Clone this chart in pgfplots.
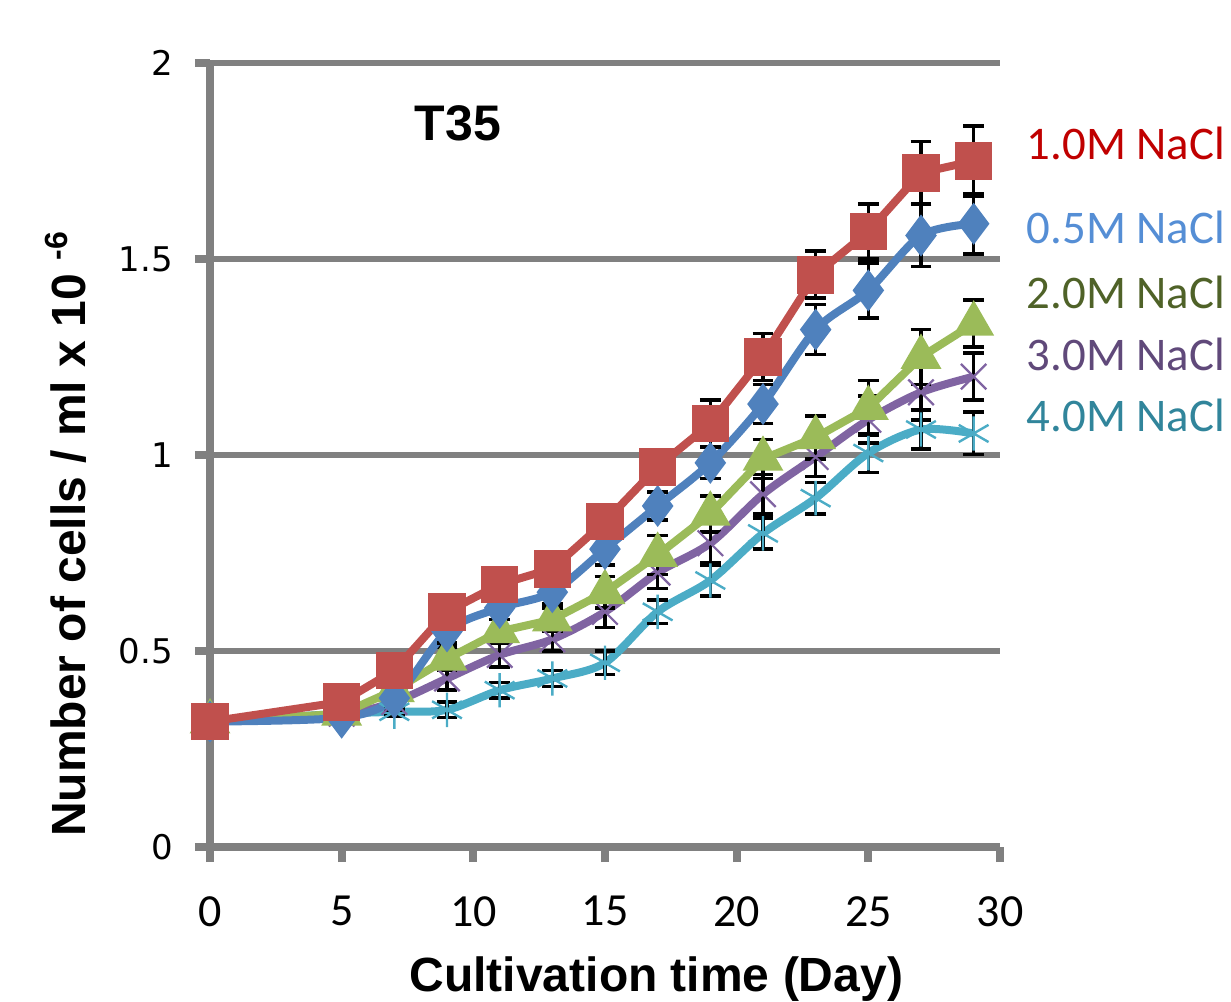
\documentclass[border=0pt]{standalone}
\usepackage{fontspec}
\setmainfont{Liberation Sans}
\newfontfamily\carlito{Carlito}
\newfontfamily\dejavu{DejaVu Sans}
\usepackage{pgfplots}
\pgfplotsset{compat=1.18}
\usepackage{pgfplotstable}

\definecolor{axgray}{RGB}{128,128,128}
\definecolor{sred}{RGB}{192,80,77}
\definecolor{sblue}{RGB}{79,129,189}
\definecolor{sgreen}{RGB}{155,187,89}
\definecolor{spurple}{RGB}{128,100,162}
\definecolor{scyan}{RGB}{75,172,198}
\definecolor{tred}{RGB}{192,0,0}
\definecolor{tblue}{RGB}{85,142,213}
\definecolor{tgreen}{RGB}{79,98,40}
\definecolor{tpurple}{RGB}{96,73,122}
\definecolor{tcyan}{RGB}{49,133,155}

% day, mean, error
\pgfplotstableread{
x y e
0 0.32 0.01
5 0.37 0.01
7 0.45 0.02
9 0.60 0.03
11 0.67 0.03
13 0.71 0.03
15 0.83 0.04
17 0.97 0.04
19 1.08 0.06
21 1.25 0.06
23 1.46 0.06
25 1.57 0.07
27 1.72 0.08
29 1.75 0.09
}\onem
\pgfplotstableread{
x y e
0 0.32 0.01
5 0.33 0.01
7 0.38 0.02
9 0.55 0.03
11 0.61 0.03
13 0.65 0.03
15 0.76 0.04
17 0.87 0.035
19 0.98 0.04
21 1.13 0.05
23 1.32 0.064
25 1.42 0.07
27 1.56 0.079
29 1.59 0.077
}\halfm
\pgfplotstableread{
x y e
0 0.32 0.01
5 0.34 0.01
7 0.40 0.02
9 0.48 0.03
11 0.55 0.03
13 0.58 0.03
15 0.65 0.04
17 0.745 0.05
19 0.85 0.046
21 0.99 0.05
23 1.045 0.055
25 1.12 0.07
27 1.25 0.07
29 1.335 0.06
}\twom
\pgfplotstableread{
x y e
0 0.32 0.01
5 0.34 0.01
7 0.37 0.02
9 0.43 0.03
11 0.49 0.03
13 0.53 0.03
15 0.60 0.04
17 0.70 0.04
19 0.775 0.05
21 0.90 0.05
23 0.995 0.05
25 1.09 0.06
27 1.16 0.07
29 1.20 0.06
}\threem
\pgfplotstableread{
x y e
0 0.32 0.01
5 0.34 0.01
7 0.345 0.01
9 0.35 0.02
11 0.40 0.02
13 0.43 0.02
15 0.47 0.03
17 0.60 0.03
19 0.68 0.04
21 0.80 0.04
23 0.89 0.04
25 1.005 0.05
27 1.065 0.05
29 1.055 0.054
}\fourm

\pgfplotsset{
  ser/.style={line width=2pt, color=#1, mark options={solid, fill=#1, draw=#1},
    error bars/y dir=both, error bars/y explicit,
    error bars/error bar style={black, line width=0.9pt},
    error bars/error mark options={rotate=90, black, mark size=2.6pt, line width=0.9pt}},
}

\begin{document}
\begin{tikzpicture}
\begin{axis}[
  name=ax,
  scale only axis, width=197.5pt, height=196pt,
  xmin=0, xmax=30, ymin=0, ymax=2,
  xtick={0,5,...,30}, ytick={0,0.5,...,2},
  axis x line*=bottom, axis y line*=left,
  axis line style={axgray, line width=2pt},
  tick style={axgray, line width=2pt},
  tick align=outside, major tick length=3.8pt,
  ymajorgrids, grid style={axgray, line width=1.6pt},
  /pgf/number format/assume math mode=true,
  xticklabel style={font=\carlito\fontsize{11.5}{12}\selectfont, yshift=-5pt},
  yticklabel style={font=\dejavu\fontsize{8.5}{10}\selectfont, xshift=-2pt},
  clip=false,
]
\addplot+[ser=scyan, mark=asterisk, mark size=4.3pt, mark options={line width=0.6pt}, smooth]
  table[x=x, y=y, y error=e] {\fourm};
\addplot+[ser=spurple, mark=x, mark size=4.5pt, mark options={line width=0.55pt}, smooth]
  table[x=x, y=y, y error=e] {\threem};
\addplot+[ser=sgreen, mark=triangle*, mark size=3.9pt]
  table[x=x, y=y, y error=e] {\twom};
\addplot+[ser=sblue, mark=diamond*, mark size=3.6pt, smooth]
  table[x=x, y=y, y error=e] {\halfm};
\addplot+[ser=sred, mark=square*, mark size=3.7pt]
  table[x=x, y=y, y error=e] {\onem};

\node[font=\bfseries\fontsize{12.5}{14}\selectfont] at (rel axis cs:0.314,0.923) {T35};
\node[rotate=90, font=\bfseries\fontsize{12}{14}\selectfont] at ([xshift=-36pt]rel axis cs:0,0.40) {Number of cells / ml x 10 \textsuperscript{-6}};
\node[font=\bfseries\fontsize{12}{14}\selectfont] at ([yshift=-33pt]rel axis cs:0.565,0) {Cultivation time (Day)};

\begin{scope}[every node/.style={anchor=west, font=\carlito\fontsize{11.7}{14}\selectfont}]
\node[text=tred] at (rel axis cs:1.016,0.898) {1.0M NaCl};
\node[text=tblue] at (rel axis cs:1.016,0.79) {0.5M NaCl};
\node[text=tgreen] at (rel axis cs:1.016,0.708) {2.0M NaCl};
\node[text=tpurple] at (rel axis cs:1.016,0.628) {3.0M NaCl};
\node[text=tcyan] at (rel axis cs:1.016,0.551) {4.0M NaCl};
\end{scope}
\end{axis}
\pgfresetboundingbox
\path ([shift={(-52.5pt,-38.5pt)}]ax.south west) rectangle ([shift={(255.25pt,211.75pt)}]ax.south west);
\end{tikzpicture}
\end{document}
